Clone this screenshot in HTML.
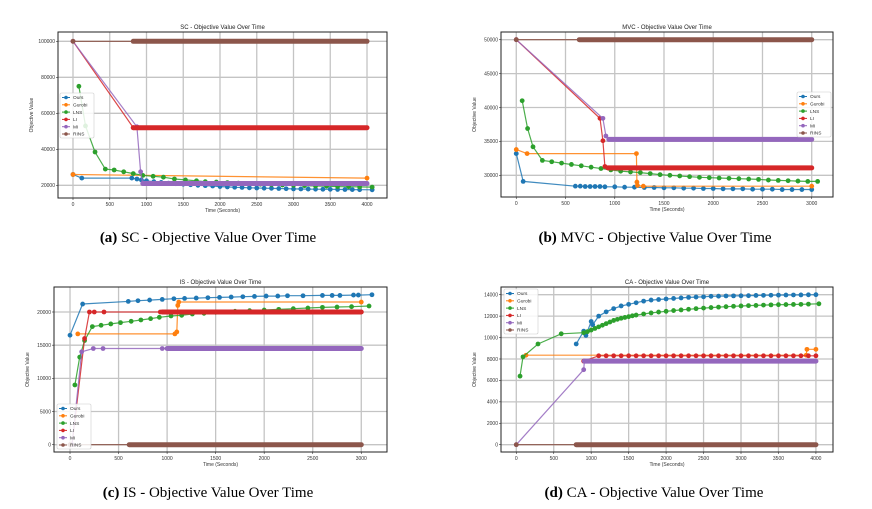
<!DOCTYPE html>
<html><head><meta charset="utf-8">
<style>
html,body{margin:0;padding:0;background:#fff;}
svg{display:block;font-family:"Liberation Sans",sans-serif;}
.cap{font-family:"Liberation Serif",serif;font-size:15px;fill:#000;}
</style></head>
<body>
<svg id="fig" width="872" height="509" viewBox="0 0 872 509"></svg>
<script>
const seriesNames=["Ours","Gurobi","LNS","LI","MI","RINS"];
const colors=["#1f77b4","#ff7f0e","#2ca02c","#d62728","#9467bd","#8c564b"];

// (a) SC
const scOurs=[[0,26000],[120,24000],[800,24000],[870,23500],[930,23000],[1000,22500],[1100,22000],[1200,21600],[1300,21200],[1400,20900],[1500,20600],[1600,20300],[1700,20000],[1800,19800],[1900,19600],[2000,19300],[2100,19100],[2200,18900],[2300,18800],[2400,18600],[2500,18500],[2600,18400],[2700,18300],[2800,18200],[2900,18100],[3000,18000],[3100,17950],[3200,17900],[3300,17850],[3400,17800],[3500,17750],[3600,17700],[3700,17650],[3800,17600],[3900,17550],[4070,17500]];
const scGurobi=[[0,26000],[4000,24000]];
const scLNS=[[80,75000],[170,53000],[300,38500],[440,29000],[560,28500],[690,27500],[820,26500],[950,25500],[1090,25000],[1230,24500],[1380,23500],[1530,23000],[1680,22500],[1800,22000],[1950,21800],[2100,21500],[2250,21200],[2400,20900],[2550,20600],[2700,20400],[2850,20200],[3000,20000],[3150,19800],[3300,19600],[3450,19500],[3600,19300],[3750,19200],[3900,19100],[4070,19000]];
const scLI=[[0,100000],[820,52000]];
const scMI=[[0,100000],[870,52500],[920,27500],[950,21000]];
const scRINS=[[0,100000]];
const scPlateaus=[[3,820,4000,52000],[4,950,4000,21000],[5,820,4000,100000]];

// (b) MVC
const mvcOurs=[[0,33200],[70,29100],[600,28400],[650,28400],[700,28350],[750,28350],[800,28350],[850,28350],[900,28300],[1000,28300],[1100,28250],[1200,28250],[1300,28200],[1400,28200],[1500,28150],[1600,28150],[1700,28100],[1800,28100],[1900,28050],[2000,28050],[2100,28000],[2200,28000],[2300,28000],[2400,27950],[2500,27950],[2600,27950],[2700,27900],[2800,27900],[2900,27900],[3000,27900]];
const mvcGurobi=[[0,33800],[110,33200],[1220,33200],[1225,29000],[1230,28500],[1290,28400],[3000,28400]];
const mvcLNS=[[60,41000],[115,36900],[170,34200],[265,32200],[360,32000],[460,31800],[560,31600],[660,31400],[760,31200],[860,31000],[960,30800],[1060,30600],[1160,30500],[1260,30400],[1360,30250],[1460,30100],[1560,30000],[1660,29900],[1760,29800],[1860,29700],[1960,29650],[2060,29600],[2160,29550],[2260,29500],[2360,29450],[2460,29400],[2560,29300],[2660,29250],[2760,29200],[2860,29150],[2960,29100],[3060,29100]];
const mvcLI=[[0,50000],[850,38400],[880,35100],[900,31300],[930,31100]];
const mvcMI=[[0,50000],[880,38400],[910,35800],[940,35300]];
const mvcRINS=[[0,50000]];
const mvcPlateaus=[[3,930,3000,31100],[4,940,3000,35300],[5,640,3000,50000]];

// (c) IS
const isOurs=[[0,16500],[130,21200],[600,21600],[700,21700],[820,21800],[950,21900],[1070,22000],[1180,22050],[1300,22100],[1420,22150],[1540,22200],[1660,22250],[1780,22300],[1900,22350],[2020,22400],[2140,22400],[2240,22450],[2400,22450],[2600,22500],[2700,22500],[2780,22500],[2920,22550],[2970,22550],[3110,22600]];
const isGurobi=[[80,16700],[1080,16700],[1100,17000],[1110,21000],[1120,21500],[3000,21500]];
const isLNS=[[50,9000],[100,13200],[150,15700],[230,17800],[320,18000],[420,18200],[520,18400],[630,18600],[730,18800],[830,19000],[920,19200],[1040,19400],[1150,19500],[1260,19700],[1380,19800],[1500,19950],[1700,20100],[1850,20200],[2000,20300],[2150,20400],[2300,20500],[2450,20600],[2600,20700],[2750,20750],[2900,20800],[3080,20900]];
const isLI=[[20,0],[150,16000],[200,20000],[250,20000],[350,20000],[930,20000]];
const isMI=[[20,0],[120,14000],[240,14500],[340,14500],[950,14500]];
const isRINS=[[0,0]];
const isPlateaus=[[3,950,3000,20000],[4,1000,3000,14500],[5,610,3000,0]];

// (d) CA
const caOurs=[[800,9400],[900,10600],[930,10200],[1000,11500],[1020,11200],[1100,12000],[1200,12400],[1300,12700],[1400,12950],[1500,13100],[1600,13250],[1700,13400],[1800,13500],[1900,13550],[2000,13600],[2100,13650],[2200,13700],[2300,13750],[2400,13780],[2500,13800],[2600,13850],[2700,13860],[2800,13880],[2900,13890],[3000,13900],[3100,13910],[3200,13930],[3300,13940],[3400,13950],[3500,13960],[3600,13970],[3700,13975],[3800,13980],[3900,13990],[4000,14000]];
const caGurobi=[[130,8350],[3870,8350],[3880,8900],[4000,8900]];
const caLNS=[[50,6400],[90,8200],[290,9400],[600,10350],[900,10450],[950,10550],[1000,10700],[1050,10850],[1100,11000],[1150,11150],[1200,11300],[1250,11450],[1300,11600],[1350,11700],[1400,11800],[1450,11880],[1500,11950],[1550,12030],[1600,12100],[1700,12200],[1800,12300],[1900,12380],[2000,12450],[2100,12520],[2200,12580],[2300,12640],[2400,12700],[2500,12750],[2600,12800],[2700,12840],[2800,12880],[2900,12920],[3000,12950],[3100,12980],[3200,13000],[3300,13030],[3400,13050],[3500,13070],[3600,13080],[3700,13090],[3800,13100],[3900,13120],[4040,13150]];
const caLI=[[900,7800],[1100,8300],[1200,8300],[1300,8300],[1400,8300],[1500,8300],[1600,8300],[1700,8300],[1800,8300],[1900,8300],[2000,8300],[2100,8300],[2200,8300],[2300,8300],[2400,8300],[2500,8300],[2600,8300],[2700,8300],[2800,8300],[2900,8300],[3000,8300],[3100,8300],[3200,8300],[3300,8300],[3400,8300],[3500,8300],[3600,8300],[3700,8300],[3800,8300],[3900,8300],[4000,8300]];
const caMI=[[0,0],[900,7000],[910,7800]];
const caRINS=[[0,0]];
const caPlateaus=[[4,910,4000,7800],[5,800,4000,0]];

const xTicksA=[0,500,1000,1500,2000,2500,3000,3500,4000];
const yTicksA=[20000,40000,60000,80000,100000];
const xTicksB=[0,500,1000,1500,2000,2500,3000];
const yTicksB=[30000,35000,40000,45000,50000];
const xTicksC=[0,500,1000,1500,2000,2500,3000];
const yTicksC=[0,5000,10000,15000,20000];
const xTicksD=[0,500,1000,1500,2000,2500,3000,3500,4000];
const yTicksD=[0,2000,4000,6000,8000,10000,12000,14000];

const NS="http://www.w3.org/2000/svg";
const fig=document.getElementById('fig');
function mk(tag,attrs,parent){const e=document.createElementNS(NS,tag);for(const k in attrs)e.setAttribute(k,attrs[k]);(parent||fig).appendChild(e);return e;}

const panels=[
 {id:"sc",title:"SC - Objective Value Over Time",cap:["(a)"," SC - Objective Value Over Time"],box:[58,32,387,198],xd:[-204,4272],yd:[12940,105170],xt:xTicksA,yt:yTicksA,series:[scOurs,scGurobi,scLNS,scLI,scMI,scRINS],pl:scPlateaus,leg:[60,93],capY:242,capX:208},
 {id:"mvc",title:"MVC - Objective Value Over Time",cap:["(b)"," MVC - Objective Value Over Time"],box:[501,32,833,197],xd:[-155,3216],yd:[26800,51136],xt:xTicksB,yt:yTicksB,series:[mvcOurs,mvcGurobi,mvcLNS,mvcLI,mvcMI,mvcRINS],pl:mvcPlateaus,leg:[797,92],capY:242,capX:655},
 {id:"is",title:"IS - Objective Value Over Time",cap:["(c)"," IS - Objective Value Over Time"],box:[54,287,387,452],xd:[-165,3265],yd:[-1100,23768],xt:xTicksC,yt:yTicksC,series:[isOurs,isGurobi,isLNS,isLI,isMI,isRINS],pl:isPlateaus,leg:[57,404],capY:497,capX:208},
 {id:"ca",title:"CA - Objective Value Over Time",cap:["(d)"," CA - Objective Value Over Time"],box:[501,287,833,452],xd:[-204,4228],yd:[-681,14719],xt:xTicksD,yt:yTicksD,series:[caOurs,caGurobi,caLNS,caLI,caMI,caRINS],pl:caPlateaus,leg:[504,289],capY:497,capX:654}
];

panels.forEach(p=>{
 const [x0,y0,x1,y1]=p.box;
 const sx=v=>x0+(v-p.xd[0])/(p.xd[1]-p.xd[0])*(x1-x0);
 const sy=v=>y1-(v-p.yd[0])/(p.yd[1]-p.yd[0])*(y1-y0);
 const g=mk('g',{});
 
 
 const t=mk('text',{x:(x0+x1)/2,y:y0-3,'text-anchor':'middle','font-size':6,fill:'#222'},g);t.textContent=p.title;
 
 p.xt.forEach(v=>{
  const X=sx(v);
  const gl=mk('line',{x1:X,x2:X,y1:y0,y2:y1,stroke:'#c4c4c4','stroke-width':1.3},g);
  
  mk('line',{x1:X,x2:X,y1:y1,y2:y1+2,stroke:'#333','stroke-width':0.6},g);
  const tl=mk('text',{x:X,y:y1+8,'text-anchor':'middle','font-size':5,fill:'#333'},g);tl.textContent=v;
  
 });
 p.yt.forEach(v=>{
  const Y=sy(v);
  const gl=mk('line',{x1:x0,x2:x1,y1:Y,y2:Y,stroke:'#c4c4c4','stroke-width':1.3},g);
  
  mk('line',{x1:x0-2,x2:x0,y1:Y,y2:Y,stroke:'#333','stroke-width':0.6},g);
  const tl=mk('text',{x:x0-3,y:Y+1.8,'text-anchor':'end','font-size':5,fill:'#333'},g);tl.textContent=v;
  
 });
 const xl=mk('text',{x:(x0+x1)/2,y:y1+14,'text-anchor':'middle','font-size':5,fill:'#333'},g);xl.textContent="Time (Seconds)";
 
 const yx=x0-25,yy=(y0+y1)/2;
 const yl=mk('text',{x:yx,y:yy,'text-anchor':'middle','font-size':5,fill:'#333',transform:`rotate(-90 ${yx} ${yy})`},g);yl.textContent="Objective Value";
 
 p.series.forEach((s,i)=>{
  const pts=s.map(d=>sx(d[0]).toFixed(1)+','+sy(d[1]).toFixed(1)).join(' ');
  const pl=mk('polyline',{points:pts,fill:'none',stroke:colors[i],'stroke-width':1.2,'stroke-opacity':0.85},g);
  
  s.forEach(d=>{
   const c=mk('circle',{cx:sx(d[0]),cy:sy(d[1]),r:2.4,fill:colors[i]},g);
   
  });
 });
 p.pl.forEach(q=>{
  const [i,a,b,v]=q;
  const s=p.series[i],last=s[s.length-1];
  mk('line',{x1:sx(last[0]),y1:sy(last[1]),x2:sx(a),y2:sy(v),stroke:colors[i],'stroke-width':1.2},g);
  const l=mk('line',{x1:sx(a),y1:sy(v),x2:sx(b),y2:sy(v),stroke:colors[i],'stroke-width':5,'stroke-linecap':'round'},g);
  
 });
 const fr=mk('rect',{x:x0,y:y0,width:x1-x0,height:y1-y0,fill:'none',stroke:'#222','stroke-width':1},g);
 
 const [lx,ly]=p.leg;
 const lg=mk('g',{},g);
 
 mk('rect',{x:lx,y:ly,width:34,height:45,fill:'#fff','fill-opacity':0.85,stroke:'#ccc','stroke-width':0.6,rx:1.5},lg);
 seriesNames.forEach((n,i)=>{
  const Y=ly+4.5+i*7.3;
  const e=mk('g',{},lg);
  
  mk('line',{x1:lx+2,x2:lx+10,y1:Y,y2:Y,stroke:colors[i],'stroke-width':1},e);
  mk('circle',{cx:lx+6,cy:Y,r:1.8,fill:colors[i]},e);
  const tt=mk('text',{x:lx+13,y:Y+1.7,'font-size':4.8,fill:'#333'},e);tt.textContent=n;
 });
 const cp=mk('text',{x:p.capX,y:p.capY,'text-anchor':'middle',class:'cap'},fig);
 
 const b=mk('tspan',{'font-weight':'bold'},cp);b.textContent=p.cap[0];
 const r=mk('tspan',{},cp);r.textContent=p.cap[1];
});
</script>
</body></html>
